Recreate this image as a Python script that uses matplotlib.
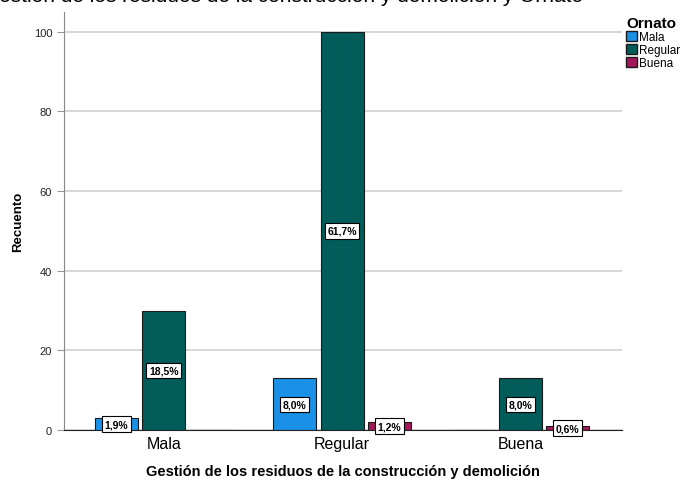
import numpy as np
import matplotlib.pyplot as plt
from matplotlib.patches import Patch

plt.rcParams['font.family'] = ['Liberation Sans', 'DejaVu Sans']

# recuentos por categoria de gestion (eje x) y de ornato (series)
categorias = ["Mala", "Regular", "Buena"]
series = ["Mala", "Regular", "Buena"]
mala = [3, 13, 0]
regular = [30, 100, 13]
buena = [0, 2, 1]
porcentajes = [
    ["1,9%", "8,0%", None],
    ["18,5%", "61,7%", "8,0%"],
    [None, "1,2%", "0,6%"],
]
colores = ["#1a90e6", "#015c5a", "#a3185a"]

fig = plt.figure(figsize=(6.83, 4.85), dpi=100)
ax = fig.add_axes([0.0937, 0.1113, 0.817, 0.862])

x = np.arange(len(categorias))
ancho = 0.24
paso = 0.265
for i, (valores, color) in enumerate(zip([mala, regular, buena], colores)):
    pos = x + (i - 1) * paso
    ax.bar(pos, valores, width=ancho, color=color, edgecolor="#1a1a1a",
           linewidth=0.8, zorder=3)
    for xp, v, txt in zip(pos, valores, porcentajes[i]):
        if txt is None:
            continue
        ax.text(xp, v / 2, txt, ha="center", va="center", fontsize=7.5,
                fontweight="bold", zorder=4,
                bbox=dict(boxstyle="square,pad=0.25", fc="white",
                          ec="black", lw=0.8))

ax.set_xlim(-0.56, 2.57)
ax.set_ylim(0, 105)
ax.set_yticks([0, 20, 40, 60, 80, 100])
ax.set_xticks(x)
ax.set_xticklabels(categorias, fontsize=11.5)
ax.tick_params(axis="y", labelsize=8, length=5, color="#999999",
               labelcolor="#222222")
ax.tick_params(axis="x", length=0, pad=4)
ax.grid(axis="y", color="#d0d0d0", linewidth=1.2, zorder=0)

for lado in ["top", "right"]:
    ax.spines[lado].set_visible(False)
ax.spines["left"].set_color("#888888")
ax.spines["bottom"].set_color("#222222")

ax.set_ylabel("Recuento", fontsize=9.5, fontweight="bold", labelpad=7)
ax.set_xlabel("Gestión de los residuos de la construcción y demolición",
              fontsize=10.5, fontweight="bold", labelpad=10)

# titulo que queda recortado en el borde superior
fig.text(0.415, 1.007, "Gestión de los residuos de la construcción y demolición y Ornato",
         ha="center", va="center", fontsize=15)

manejadores = [Patch(facecolor=c, edgecolor="#1a1a1a", label=s)
               for c, s in zip(colores, series)]
ley = fig.legend(handles=manejadores, title="Ornato", loc="upper left",
                 bbox_to_anchor=(0.91, 0.975), frameon=False, fontsize=8.5,
                 handlelength=0.9, handleheight=0.9, handletextpad=0.2,
                 labelspacing=0.1, borderaxespad=0)
ley.get_title().set_fontweight("bold")
ley.get_title().set_fontsize(11)
ley._legend_box.align = "left"

fig.savefig("out.png", dpi=100)
